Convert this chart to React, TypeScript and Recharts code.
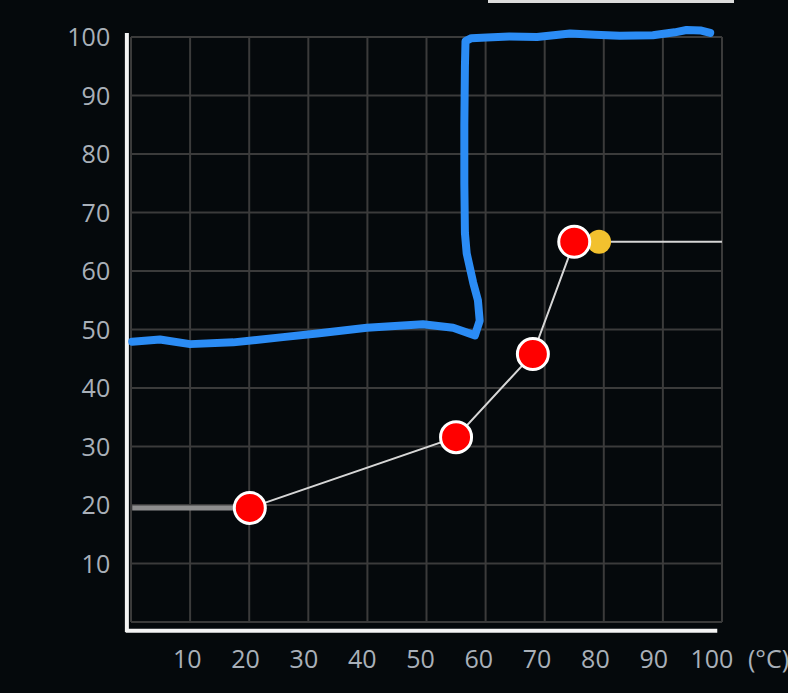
import React from 'react';
import { LineChart, Line, XAxis, YAxis, ReferenceLine } from 'recharts';

// ---- data ----
const xTicks = [10, 20, 30, 40, 50, 60, 70, 80, 90, 100];
const yTicks = [10, 20, 30, 40, 50, 60, 70, 80, 90, 100];
const gridXValues = [0, 10, 20, 30, 40, 50, 60, 70, 80, 90, 100];
const gridYValues = [0, 10, 20, 30, 40, 50, 60, 70, 80, 90, 100];
const unitLabel = '(°C)';

// hand-drawn blue stroke
const bluePath = [
  { x: 0.2, y: 47.9 }, { x: 4.9, y: 48.3 }, { x: 10, y: 47.5 }, { x: 17.3, y: 47.8 },
  { x: 25.7, y: 48.7 }, { x: 31.5, y: 49.3 }, { x: 39.9, y: 50.3 }, { x: 49.4, y: 50.9 },
  { x: 54.5, y: 50.3 }, { x: 58.2, y: 49.0 }, { x: 59.0, y: 51.5 }, { x: 58.7, y: 55 },
  { x: 57.9, y: 58 }, { x: 56.8, y: 63 }, { x: 56.5, y: 66.5 }, { x: 56.4, y: 75 },
  { x: 56.4, y: 85 }, { x: 56.5, y: 95 }, { x: 56.6, y: 99.3 }, { x: 57.6, y: 99.8 },
  { x: 60.2, y: 99.9 }, { x: 64, y: 100.1 }, { x: 68.7, y: 100 }, { x: 74.3, y: 100.6 },
  { x: 78.5, y: 100.4 }, { x: 82.7, y: 100.2 }, { x: 88.3, y: 100.3 }, { x: 92, y: 100.8 },
  { x: 94, y: 101.2 }, { x: 96.5, y: 101.1 }, { x: 98, y: 100.7 },
];

const leadIn = [{ x: 0.2, y: 19.5 }, { x: 20.1, y: 19.5 }];
const curvePoints = [
  { x: 20.1, y: 19.5 },
  { x: 55.0, y: 31.6 },
  { x: 68.0, y: 45.8 },
  { x: 75.0, y: 65.0 },
];
const tail = [{ x: 79.2, y: 65.0 }, { x: 100, y: 65.0 }];
const currentPoint = [{ x: 79.2, y: 65.0 }];

const axisVertical = [{ x: -0.7, y: -1.7 }, { x: -0.7, y: 100.7 }];
const axisHorizontal = [{ x: -0.9, y: -1.5 }, { x: 99.2, y: -1.5 }];

const FONT = '"Open Sans", "Noto Sans", sans-serif';
const TEXT = '#a9b0b9';
const GRID = '#3b3b3b';
const BG = '#05090c';

const XTick = (props: any) => {
  const { x, y, payload } = props;
  const v = payload.value;
  const dx = -(2 + 0.08 * v);
  return (
    <g>
      <text x={x + dx} y={y + 20} textAnchor="middle" fill={TEXT} fontSize={25} fontFamily={FONT}>
        {v}
      </text>
      {v === 100 ? (
        <text x={x + 26} y={y + 20} textAnchor="start" fill={TEXT} fontSize={25} fontFamily={FONT}>
          {unitLabel}
        </text>
      ) : null}
    </g>
  );
};

const YTick = (props: any) => {
  const { x, y, payload } = props;
  return (
    <text x={x - 1} y={y + 9} textAnchor="end" fill={TEXT} fontSize={25} fontFamily={FONT}>
      {payload.value}
    </text>
  );
};

export default function App() {
  React.useEffect(() => {
    document.body.style.background = BG;
    document.documentElement.style.background = BG;
    document.body.style.margin = '0';
  }, []);
  return (
    <div
      style={{
        position: 'fixed',
        left: 0,
        top: 0,
        width: 788,
        height: 693,
        background: BG,
        overflow: 'hidden',
      }}
    >
      <div
        style={{
          position: 'absolute',
          left: 488,
          top: 0,
          width: 246,
          height: 3,
          background: '#dcdcdc',
        }}
      />
      <LineChart
        width={788}
        height={693}
        margin={{ top: 25.3, right: 60.1, bottom: 0, left: 0 }}
        style={{ position: 'absolute', left: 0, top: 0 }}
      >
        <XAxis
          type="number"
          dataKey="x"
          domain={[-2, 101]}
          ticks={xTicks}
          axisLine={false}
          tickLine={false}
          height={53.45}
          tick={<XTick />}
          interval={0}
          allowDataOverflow
        />
        <YAxis
          type="number"
          dataKey="y"
          domain={[-3, 102]}
          ticks={yTicks}
          axisLine={false}
          tickLine={false}
          width={119.2}
          tick={<YTick />}
          interval={0}
          allowDataOverflow
        />
        {gridXValues.map((v) => (
          <ReferenceLine
            key={'gx' + v}
            segment={[{ x: v, y: 0 }, { x: v, y: 100 }]}
            stroke={GRID}
            strokeWidth={2}
          />
        ))}
        {gridYValues.map((v) => (
          <ReferenceLine
            key={'gy' + v}
            segment={[{ x: 0, y: v }, { x: 100, y: v }]}
            stroke={GRID}
            strokeWidth={2}
          />
        ))}
        <ReferenceLine segment={axisVertical} stroke="#f4f4f4" strokeWidth={4} />
        <ReferenceLine segment={axisHorizontal} stroke="#f4f4f4" strokeWidth={4} />

        <Line
          data={leadIn}
          dataKey="y"
          type="linear"
          stroke="#8e8e8e"
          strokeWidth={5}
          dot={false}
          isAnimationActive={false}
        />
        <Line
          data={curvePoints}
          dataKey="y"
          type="linear"
          stroke="#d6d6d6"
          strokeWidth={2}
          dot={false}
          isAnimationActive={false}
        />
        <Line
          data={tail}
          dataKey="y"
          type="linear"
          stroke="#d6d6d6"
          strokeWidth={2}
          dot={false}
          isAnimationActive={false}
        />
        <Line
          data={currentPoint}
          dataKey="y"
          stroke="none"
          dot={{ r: 12, fill: '#f2c12e', stroke: 'none', strokeWidth: 0 }}
          isAnimationActive={false}
        />
        <Line
          data={curvePoints}
          dataKey="y"
          stroke="none"
          dot={{ r: 15.5, fill: '#ff0000', stroke: '#ffffff', strokeWidth: 3 }}
          isAnimationActive={false}
        />
        <Line
          data={bluePath}
          dataKey="y"
          type="linear"
          stroke="#2b8cf5"
          strokeWidth={8}
          strokeLinecap="round"
          strokeLinejoin="round"
          dot={false}
          isAnimationActive={false}
        />
      </LineChart>
    </div>
  );
}
